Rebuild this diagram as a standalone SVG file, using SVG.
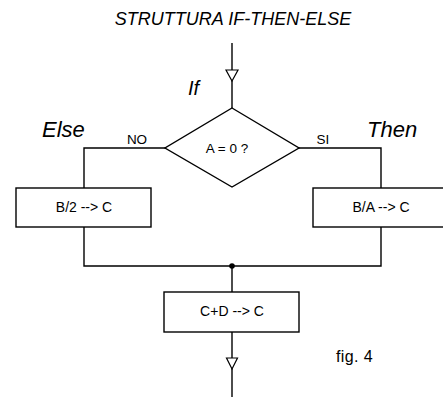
<svg xmlns="http://www.w3.org/2000/svg" width="443" height="397" viewBox="0 0 443 397">
<style>
.ln{fill:none;stroke:#000;stroke-width:1.4}
.bx{fill:#fff;stroke:#000;stroke-width:1.4}
.ar{fill:#fff;stroke:#000;stroke-width:1.2}
.t{font-family:"Liberation Sans",Arial,sans-serif;fill:#000}
.it{font-style:italic}
</style>
<rect width="443" height="397" fill="#fff"/>
<text class="t it" x="233" y="25" font-size="18" text-anchor="middle">STRUTTURA IF-THEN-ELSE</text>
<g id="connectors">
<line class="ln" x1="232" y1="43" x2="232" y2="108"/>
<polygon class="ar" points="226,70 238,70 232,81"/>
<polyline class="ln" points="165,148 84,148 84,188"/>
<polyline class="ln" points="299,148 381,148 381,188"/>
<polyline class="ln" points="84,227 84,266 381,266 381,227"/>
<line class="ln" x1="232" y1="266" x2="232" y2="292"/>
<circle cx="232" cy="266" r="2.8" fill="#000"/>
<line class="ln" x1="232" y1="332" x2="232" y2="397"/>
<polygon class="ar" points="226.5,358 237.5,358 232,369"/>
<text class="t" x="137" y="144" font-size="13.5" text-anchor="middle">NO</text>
<text class="t" x="323" y="144" font-size="13.5" text-anchor="middle">SI</text>
</g>
<g id="decision">
<polygon class="bx" points="232,108 299,148 232,187 165,148"/>
<text class="t" x="227" y="153" font-size="13.5" text-anchor="middle">A = 0 ?</text>
</g>
<g id="else-box">
<rect class="bx" x="16" y="188" width="135" height="39"/>
<text class="t" x="84" y="212" font-size="14" text-anchor="middle">B/2 --&gt; C</text>
</g>
<g id="then-box">
<rect class="bx" x="313" y="188" width="136" height="39"/>
<text class="t" x="381" y="212" font-size="14" text-anchor="middle">B/A --&gt; C</text>
</g>
<g id="sum-box">
<rect class="bx" x="164" y="292" width="135" height="40"/>
<text class="t" x="232" y="316" font-size="14" text-anchor="middle">C+D --&gt; C</text>
</g>
<g id="labels">
<text class="t it" x="188" y="95" font-size="20">If</text>
<text class="t it" x="42" y="137" font-size="22">Else</text>
<text class="t it" x="367" y="137" font-size="22">Then</text>
<text class="t" x="336" y="362" font-size="16" letter-spacing="0.4">fig. 4</text>
</g>
</svg>
